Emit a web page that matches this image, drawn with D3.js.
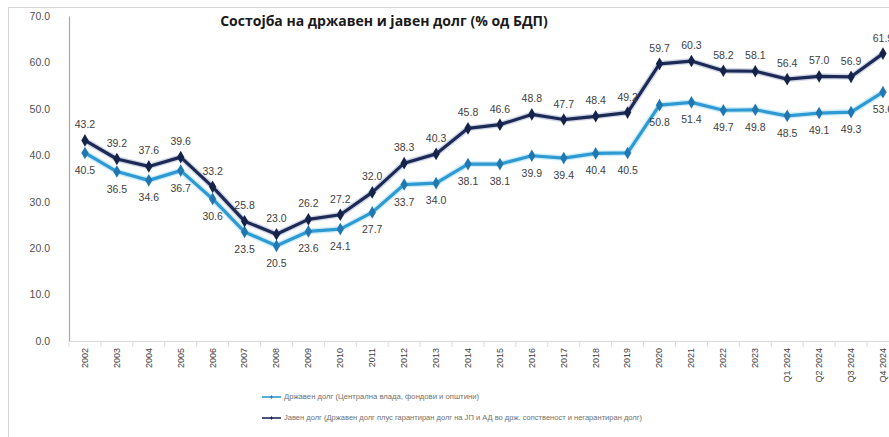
<!DOCTYPE html>
<html>
<head>
<meta charset="utf-8">
<script src="https://cdn.jsdelivr.net/npm/d3@7"></script>
<style>
  html, body { margin: 0; padding: 0; background: #fff; }
  svg { display: block; }
</style>
</head>
<body>
<svg id="chart" width="889" height="437"></svg>
<script>
// Categories (years, then 2024 quarters)
const categories = ["2002","2003","2004","2005","2006","2007","2008","2009","2010","2011","2012","2013",
  "2014","2015","2016","2017","2018","2019","2020","2021","2022","2023","Q1 2024","Q2 2024","Q3 2024","Q4 2024"];

// Public debt, % of GDP
const publicDebt = [43.2,39.2,37.6,39.6,33.2,25.8,23.0,26.2,27.2,32.0,38.3,40.3,
  45.8,46.6,48.8,47.7,48.4,49.2,59.7,60.3,58.2,58.1,56.4,57.0,56.9,61.9];

// Government debt, % of GDP
const govDebt = [40.5,36.5,34.6,36.7,30.6,23.5,20.5,23.6,24.1,27.7,33.7,34.0,
  38.1,38.1,39.9,39.4,40.4,40.5,50.8,51.4,49.7,49.8,48.5,49.1,49.3,53.6];

const yTicks = [0,10,20,30,40,50,60,70];

const titleText = "Состојба на државен и јавен долг (% од БДП)";
const govLabel = "Државен долг (Централна влада, фондови и општини)";
const pubLabel = "Јавен долг (Државен долг плус гарантиран долг на ЈП и АД во држ. сопственост и негарантиран долг)";

const svg = d3.select("#chart");

// Outer frame (top and left edges of the chart area)
svg.append("line").attr("x1", 8).attr("x2", 889).attr("y1", 7.5).attr("y2", 7.5)
  .attr("stroke", "#d4d4d4").attr("stroke-width", 1);
svg.append("line").attr("x1", 8.5).attr("x2", 8.5).attr("y1", 7).attr("y2", 437)
  .attr("stroke", "#d4d4d4").attr("stroke-width", 1);

const x = d3.scaleBand().domain(categories).range([69, 69 + 26 * 31.92]).padding(0);
const y = d3.scaleLinear().domain([0, 70]).range([341, 16]);
const cx = d => x(d) + x.bandwidth() / 2;

// Y axis
const yAxis = svg.append("g").attr("transform", "translate(69,0)")
  .call(d3.axisLeft(y).tickValues(yTicks).tickFormat(d3.format(".1f")).tickSize(0).tickPadding(19));
yAxis.select(".domain").attr("stroke", "#a8a8a8").attr("stroke-width", 1.2);
yAxis.selectAll("text").attr("font-family", "Liberation Sans, Arial, sans-serif")
  .attr("font-size", 10.5).attr("fill", "#505050");

// X axis
const xAxis = svg.append("g").attr("transform", "translate(0,341)")
  .call(d3.axisBottom(x).tickSize(0).tickPadding(6));
xAxis.select(".domain").attr("stroke", "#d9d9d9").attr("stroke-width", 1);
xAxis.selectAll("text")
  .attr("font-family", "Liberation Sans Narrow, Liberation Sans, Arial, sans-serif")
  .attr("font-size", 9).attr("fill", "#404040")
  .attr("transform", "rotate(-90)")
  .attr("text-anchor", "end")
  .attr("dy", "0.32em")
  .attr("x", -7).attr("y", 0);
// Category separators below the axis
svg.append("g").selectAll("line").data(categories.concat(["_end"]))
  .join("line")
  .attr("x1", (d, i) => 69 + i * x.bandwidth()).attr("x2", (d, i) => 69 + i * x.bandwidth())
  .attr("y1", 341).attr("y2", 347)
  .attr("stroke", "#d9d9d9").attr("stroke-width", 1);

// Title
svg.append("text").attr("x", 384).attr("y", 26).attr("text-anchor", "middle")
  .attr("font-family", "Open Sans, DejaVu Sans, sans-serif").attr("font-weight", "bold")
  .attr("font-size", 14).attr("fill", "#1a1a1a").text(titleText);

const line = d3.line().x((d, i) => cx(categories[i])).y(d => y(d));
const diamond = d3.symbol().type(d3.symbolDiamond).size(46);

function drawSeries(values, glow, stroke, marker) {
  const g = svg.append("g");
  g.append("path").datum(values).attr("d", line).attr("fill", "none")
    .attr("stroke", glow).attr("stroke-width", 6).attr("stroke-opacity", 0.45)
    .attr("stroke-linejoin", "round");
  g.append("path").datum(values).attr("d", line).attr("fill", "none")
    .attr("stroke", stroke).attr("stroke-width", 3.2).attr("stroke-linejoin", "round");
  g.selectAll("path.m").data(values).join("path").attr("class", "m")
    .attr("d", diamond)
    .attr("transform", (d, i) => `translate(${cx(categories[i])},${y(d)})`)
    .attr("fill", marker);
  return g;
}

drawSeries(govDebt, "#8fd6f2", "#2f9ad2", "#2277b0");
drawSeries(publicDebt, "#9aa6c8", "#1c2a55", "#15224a");

// Value labels
const labelFont = "Liberation Sans, Arial, sans-serif";
svg.append("g").selectAll("text").data(publicDebt).join("text")
  .attr("x", (d, i) => cx(categories[i])).attr("y", d => y(d) - 12)
  .attr("text-anchor", "middle").attr("font-family", labelFont).attr("font-size", 10.5)
  .attr("fill", "#404040").text(d => d3.format(".1f")(d));
svg.append("g").selectAll("text").data(govDebt).join("text")
  .attr("x", (d, i) => cx(categories[i])).attr("y", d => y(d) + 21)
  .attr("text-anchor", "middle").attr("font-family", labelFont).attr("font-size", 10.5)
  .attr("fill", "#404040").text(d => d3.format(".1f")(d));

// Legend
const legend = svg.append("g");
const legendItems = [
  { label: govLabel, stroke: "#2f9ad2", marker: "#2277b0", y: 397, len: 195 },
  { label: pubLabel, stroke: "#1c2a55", marker: "#15224a", y: 418, len: 358 }
];
legendItems.forEach(it => {
  legend.append("line").attr("x1", 262).attr("x2", 281).attr("y1", it.y).attr("y2", it.y)
    .attr("stroke", it.stroke).attr("stroke-width", 1.6);
  legend.append("path").attr("d", d3.symbol().type(d3.symbolDiamond).size(5))
    .attr("transform", `translate(271.5,${it.y})`).attr("fill", it.marker);
  legend.append("text").attr("x", 284).attr("y", it.y + 2.3)
    .attr("font-family", labelFont).attr("font-size", 6.5).attr("fill", "#707070")
    .attr("textLength", it.len).attr("lengthAdjust", "spacingAndGlyphs")
    .text(it.label);
});
</script>
</body>
</html>
